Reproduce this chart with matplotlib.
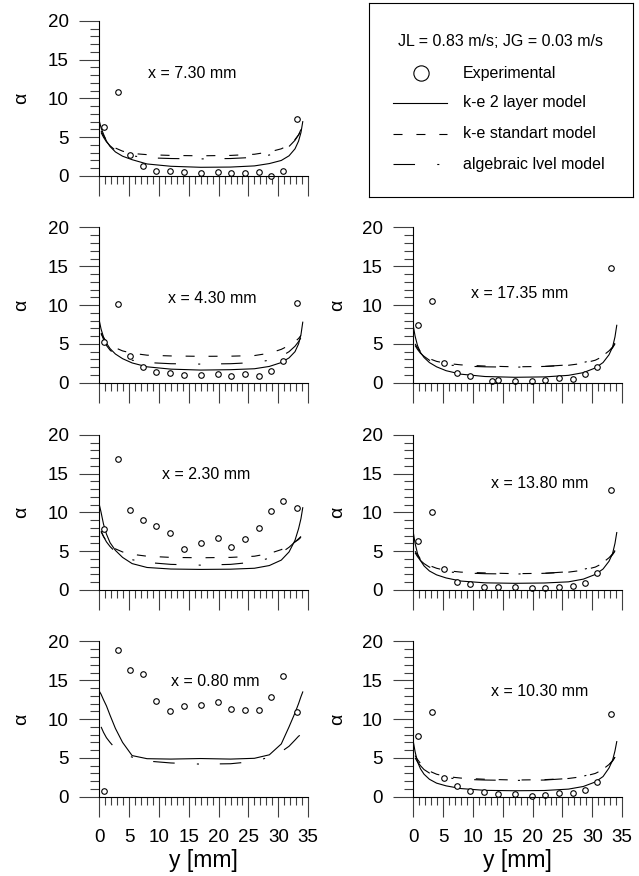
import numpy as np
import matplotlib
matplotlib.use('Agg')
import matplotlib.pyplot as plt
from matplotlib.ticker import MultipleLocator

plt.rcParams['font.family'] = ['Liberation Sans', 'DejaVu Sans']
plt.rcParams['lines.scale_dashes'] = False

# measuring positions across the channel [mm]
y_exp = [0.75, 3.1, 5.15, 7.35, 9.55, 11.85, 14.15, 17.0, 19.85, 22.1, 24.45, 26.7, 28.8, 30.85, 33.2]
y_exp_1735 = [0.75, 3.1, 5.15, 7.35, 9.55, 13.2, 14.15, 17.0, 19.85, 22.1, 24.45, 26.7, 28.8, 30.85, 33.2]

# positions where the model curves were read
y_kl = [0, 0.3, 0.7, 1.2, 1.8, 2.7, 3.9, 5.5, 8, 12, 17, 22, 26, 28.5, 30.5, 31.8, 32.8, 33.4, 33.8, 34.1]
y_ks = [0.3, 0.7, 1.2, 1.8, 2.7, 3.9, 5.5, 8, 12, 17, 22, 26, 28.5, 30.5, 31.8, 32.8, 33.4, 33.8]

# experimental void fraction
exp_730 = [6.3, 10.77, 2.7, 1.33, 0.64, 0.6, 0.47, 0.38, 0.47, 0.35, 0.35, 0.55, 0.04, 0.6, 7.3]
exp_430 = [5.28, 10.09, 3.44, 1.98, 1.34, 1.25, 1.03, 0.95, 1.16, 0.9, 1.08, 0.86, 1.55, 2.83, 10.26]
exp_230 = [7.81, 16.86, 10.3, 8.97, 8.2, 7.38, 5.23, 6.05, 6.7, 5.58, 6.52, 7.94, 10.17, 11.41, 10.55]
exp_080 = [0.77, 18.88, 16.39, 15.79, 12.27, 10.99, 11.63, 11.84, 12.15, 11.29, 11.12, 11.16, 12.87, 15.57, 10.9]
exp_1735 = [7.43, 10.51, 2.57, 1.29, 0.86, 0.26, 0.39, 0.22, 0.17, 0.35, 0.56, 0.52, 1.12, 2.06, 14.72]
exp_1380 = [6.31, 10.08, 2.75, 1.07, 0.81, 0.34, 0.34, 0.39, 0.26, 0.26, 0.39, 0.51, 0.9, 2.14, 12.83]
exp_1030 = [7.81, 10.86, 2.36, 1.38, 0.77, 0.56, 0.39, 0.35, 0.13, 0.22, 0.43, 0.43, 0.82, 1.93, 10.64]

# k-e 2 layer model
kl_730 = [7.1, 6.2, 5.4, 4.5, 3.8, 3.1, 2.55, 2.1, 1.55, 1.25, 1.12, 1.15, 1.3, 1.6, 2.0, 2.6, 3.5, 4.5, 5.6, 7.0]
kl_430 = [8.0, 6.9, 5.9, 5.1, 4.4, 3.7, 3.1, 2.55, 2.05, 1.75, 1.63, 1.68, 1.8, 2.1, 2.6, 3.2, 4.0, 5.0, 6.2, 7.8]
kl_230 = [11.0, 10.0, 8.5, 7.2, 6.1, 5.1, 4.2, 3.4, 2.9, 2.7, 2.65, 2.68, 2.8, 3.15, 3.85, 4.9, 6.4, 7.9, 9.2, 10.6]
kl_080 = [13.6, 13.2, 12.5, 11.7, 10.5, 8.8, 7.0, 5.3, 4.9, 4.85, 4.92, 4.85, 4.95, 5.4, 6.8, 9.0, 10.8, 12.0, 12.9, 13.5]
kl_1735 = [7.3, 6.0, 4.8, 3.9, 3.25, 2.6, 2.05, 1.55, 1.1, 0.8, 0.7, 0.75, 0.95, 1.3, 1.9, 2.6, 3.6, 4.6, 5.9, 7.4]
kl_1380 = [7.4, 6.0, 4.7, 3.8, 3.1, 2.45, 1.95, 1.55, 1.15, 0.92, 0.86, 0.9, 1.05, 1.4, 2.0, 2.7, 3.7, 4.7, 6.0, 7.4]
kl_1030 = [7.1, 5.8, 4.5, 3.6, 2.9, 2.25, 1.75, 1.4, 1.05, 0.82, 0.77, 0.8, 0.98, 1.32, 1.9, 2.6, 3.7, 4.7, 5.9, 7.1]

# k-e standart model
ks_730 = [5.8, 5.2, 4.6, 4.1, 3.6, 3.2, 2.9, 2.75, 2.65, 2.6, 2.65, 2.8, 3.1, 3.5, 4.0, 4.7, 5.3, 5.8]
ks_430 = [6.3, 5.8, 5.3, 4.9, 4.5, 4.1, 3.8, 3.55, 3.45, 3.4, 3.42, 3.5, 3.8, 4.3, 4.8, 5.3, 5.7, 6.1]
ks_230 = [7.6, 6.9, 6.3, 5.8, 5.3, 4.9, 4.6, 4.35, 4.2, 4.15, 4.2, 4.35, 4.7, 5.2, 5.7, 6.2, 6.5, 6.8]
ks_1735 = [5.0, 4.5, 4.0, 3.6, 3.1, 2.75, 2.5, 2.3, 2.15, 2.05, 2.1, 2.25, 2.5, 2.9, 3.4, 4.0, 4.5, 5.0]
ks_1380 = [5.0, 4.5, 4.0, 3.6, 3.15, 2.8, 2.5, 2.3, 2.2, 2.1, 2.15, 2.3, 2.55, 2.95, 3.45, 4.05, 4.55, 5.0]
ks_1030 = [5.3, 4.8, 4.3, 3.8, 3.3, 2.9, 2.6, 2.4, 2.25, 2.15, 2.2, 2.35, 2.6, 3.0, 3.5, 4.1, 4.6, 5.1]

# algebraic slip model
al_730 = [5.6, 5.0, 4.4, 3.9, 3.3, 2.9, 2.6, 2.35, 2.25, 2.2, 2.25, 2.4, 2.7, 3.2, 3.8, 4.6, 5.3, 6.0]
al_430 = [6.4, 5.6, 4.8, 4.2, 3.6, 3.2, 2.9, 2.6, 2.45, 2.4, 2.45, 2.6, 2.9, 3.4, 4.0, 4.7, 5.3, 5.8]
al_230 = [7.5, 6.9, 6.2, 5.6, 4.9, 4.3, 3.9, 3.55, 3.3, 3.2, 3.3, 3.6, 4.1, 4.8, 5.5, 6.2, 6.6, 6.9]
al_080 = [9.0, 8.3, 7.6, 7.0, 6.2, 5.6, 5.1, 4.6, 4.35, 4.2, 4.25, 4.55, 5.1, 5.8, 6.5, 7.3, 7.8, 8.0]
al_1735 = [4.8, 4.3, 3.8, 3.4, 2.9, 2.55, 2.3, 2.15, 2.05, 2.0, 2.1, 2.3, 2.6, 3.0, 3.5, 4.1, 4.6, 5.1]
al_1380 = [4.8, 4.3, 3.8, 3.4, 2.95, 2.6, 2.35, 2.2, 2.1, 2.05, 2.15, 2.35, 2.65, 3.05, 3.55, 4.15, 4.65, 5.1]
al_1030 = [5.0, 4.5, 4.0, 3.5, 3.05, 2.7, 2.45, 2.25, 2.15, 2.1, 2.15, 2.35, 2.65, 3.05, 3.55, 4.15, 4.65, 5.1]

ks_dash = (0, (6.5, 10))
al_dash = (0, (15.5, 16, 1.5, 15))
lw = 0.8

fig = plt.figure(figsize=(6.39, 8.76), dpi=100)

left_x, right_x, w, h = 0.1554, 0.6468, 0.3268, 0.1772
bottoms = [0.7991, 0.5631, 0.3265, 0.0905]

# (row, col, label, text pos, y_exp, exp, kl, ks, al)
panels = [
    (0, 0, 'x = 7.30 mm', (15.6, 13.2), y_exp, exp_730, kl_730, ks_730, al_730),
    (1, 0, 'x = 4.30 mm', (19.0, 10.9), y_exp, exp_430, kl_430, ks_430, al_430),
    (1, 1, 'x = 17.35 mm', (17.8, 11.5), y_exp_1735, exp_1735, kl_1735, ks_1735, al_1735),
    (2, 0, 'x = 2.30 mm', (17.9, 14.9), y_exp, exp_230, kl_230, ks_230, al_230),
    (2, 1, 'x = 13.80 mm', (21.1, 13.7), y_exp, exp_1380, kl_1380, ks_1380, al_1380),
    (3, 0, 'x = 0.80 mm', (19.4, 14.9), y_exp, exp_080, kl_080, None, al_080),
    (3, 1, 'x = 10.30 mm', (21.1, 13.5), y_exp, exp_1030, kl_1030, ks_1030, al_1030),
]

for row, col, label, tpos, ye, ex, kl, ks, al in panels:
    ax = fig.add_axes([left_x if col == 0 else right_x, bottoms[row], w, h])
    ax.plot(y_kl, kl, color='k', lw=lw)
    if ks is not None:
        ax.plot(y_ks, ks, color='k', lw=lw, linestyle=ks_dash)
    ax.plot(y_ks, al, color='k', lw=lw, linestyle=al_dash)
    ax.plot(ye, ex, 'o', ms=4, mfc='white', mec='k', mew=0.8, clip_on=False)
    ax.text(tpos[0], tpos[1], label, ha='center', va='center', fontsize=11.5)

    ax.set_xlim(0, 35)
    ax.set_ylim(0, 20)
    ax.spines['top'].set_visible(False)
    ax.spines['right'].set_visible(False)
    for s in ('left', 'bottom'):
        ax.spines[s].set_linewidth(0.8)
    ax.xaxis.set_major_locator(MultipleLocator(5))
    ax.xaxis.set_minor_locator(MultipleLocator(1))
    ax.yaxis.set_major_locator(MultipleLocator(5))
    ax.yaxis.set_minor_locator(MultipleLocator(1))
    ax.tick_params(axis='y', which='major', length=14.4, width=0.8, pad=7.5,
                   labelsize=13.5, color='0.25')
    ax.tick_params(axis='y', which='minor', length=6.5, width=0.8, color='0.25')
    ax.tick_params(axis='x', which='major', length=14.4, width=0.8, pad=9,
                   labelsize=13.5, color='0.25')
    ax.tick_params(axis='x', which='minor', length=5.8, width=0.8, color='0.25')
    ax.set_ylabel('α', fontsize=14)
    ax.yaxis.set_label_coords(-0.33 if col == 0 else -0.32, 0.5)
    if row == 3:
        ax.set_xlabel('y [mm]', fontsize=16.5)
        ax.xaxis.set_label_coords(0.5, -0.34)
    else:
        ax.tick_params(axis='x', labelbottom=False)

# legend box
lg = fig.add_axes([0.5775, 0.7751, 0.4131, 0.2215])
lg.set_xticks([])
lg.set_yticks([])
for s in lg.spines.values():
    s.set_linewidth(0.8)
lg.set_xlim(0, 1)
lg.set_ylim(0, 1)
lg.text(0.498, 0.804, 'JL = 0.83 m/s; JG = 0.03 m/s', ha='center', va='center', fontsize=11.5)
rows_y = [0.639, 0.485, 0.325, 0.170]
labels = ['Experimental', 'k-e 2 layer model', 'k-e standart model', 'algebraic lvel model']
lg.plot([0.197], [rows_y[0]], 'o', ms=11, mfc='white', mec='k', mew=0.8)
lg.plot([0.091, 0.295], [rows_y[1]] * 2, color='k', lw=lw)
lg.plot([0.091, 0.295], [rows_y[2]] * 2, color='k', lw=lw, linestyle=ks_dash)
lg.plot([0.091, 0.295], [rows_y[3]] * 2, color='k', lw=lw, linestyle=al_dash)
for yy, lab in zip(rows_y, labels):
    lg.text(0.356, yy, lab, ha='left', va='center', fontsize=11.5)

fig.savefig('out.png', dpi=100)
print('done')
